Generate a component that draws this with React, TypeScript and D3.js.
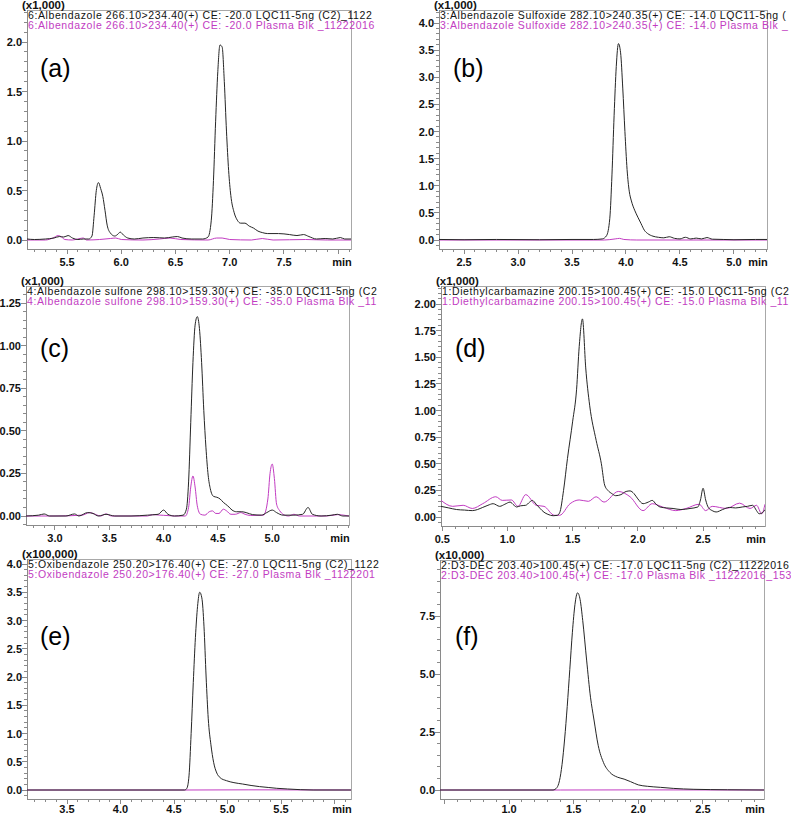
import React from 'react';
import * as d3 from 'd3';

type Pt = [number, number];

// ---------- data (time in min, intensity in the panel's multiplier units) ----------
const aBlack: Pt[] = [[5.13,0.01],[5.2,0.005],[5.3,0.01],[5.38,0.02],[5.43,0.035],[5.47,0.03],[5.51,0.045],[5.55,0.02],[5.6,0.005],[5.65,0.01],[5.7,0.01],[5.73,0.04],[5.75,0.25],[5.77,0.5],[5.79,0.58],[5.81,0.52],[5.83,0.44],[5.85,0.3],[5.87,0.15],[5.9,0.07],[5.94,0.04],[5.97,0.06],[5.99,0.08],[6.02,0.05],[6.06,0.02],[6.12,0.01],[6.2,0.02],[6.3,0.025],[6.4,0.02],[6.47,0.03],[6.52,0.035],[6.56,0.02],[6.65,0.01],[6.75,0.01],[6.8,0.03],[6.83,0.2],[6.85,0.6],[6.87,1.2],[6.89,1.7],[6.91,1.97],[6.93,1.95],[6.95,1.6],[6.97,1.1],[6.99,0.7],[7.01,0.45],[7.04,0.28],[7.07,0.2],[7.1,0.17],[7.14,0.17],[7.18,0.14],[7.22,0.12],[7.26,0.09],[7.3,0.075],[7.35,0.065],[7.45,0.065],[7.55,0.055],[7.62,0.045],[7.68,0.055],[7.73,0.035],[7.8,0.01],[7.88,0.015],[7.95,0.01],[8.02,0.025],[8.06,0.01],[8.118,0.01]];
const aMagenta: Pt[] = [[5.13,0],[5.3,0],[5.37,0.02],[5.42,0.045],[5.45,0.03],[5.48,0.005],[5.55,0],[5.62,0.015],[5.65,0.02],[5.68,0],[5.8,0.005],[5.9,0.015],[5.95,0.02],[6.0,0.005],[6.2,0],[6.35,0.01],[6.45,0.02],[6.55,0.005],[6.8,0],[6.88,0.02],[6.93,0.02],[7.0,0.005],[7.2,0],[7.3,0.015],[7.4,0],[7.7,0.005],[7.9,0],[8.118,0]];

const bBlack: Pt[] = [[2.268,0.01],[2.5,0.005],[2.8,0.01],[3.2,0.005],[3.5,0.01],[3.7,0.01],[3.78,0.02],[3.82,0.08],[3.85,0.4],[3.87,1.2],[3.89,2.3],[3.91,3.2],[3.93,3.62],[3.95,3.45],[3.97,2.8],[3.99,2.0],[4.01,1.3],[4.03,0.9],[4.05,0.72],[4.08,0.55],[4.11,0.42],[4.14,0.3],[4.17,0.18],[4.2,0.12],[4.25,0.07],[4.3,0.05],[4.35,0.04],[4.4,0.06],[4.45,0.03],[4.5,0.02],[4.55,0.05],[4.6,0.02],[4.65,0.035],[4.7,0.02],[4.75,0.045],[4.8,0.015],[4.9,0.01],[5.0,0.005],[5.2,0.01],[5.306,0.01]];
const bMagenta: Pt[] = [[2.268,0],[3.8,0],[3.9,0.02],[3.94,0.03],[3.98,0.01],[4.1,0],[5.306,0]];

const cBlack: Pt[] = [[2.733,0],[2.85,0.005],[2.9,0.012],[2.95,0],[3.1,0],[3.18,0.012],[3.22,0],[3.3,0.02],[3.35,0.015],[3.4,0],[3.47,0.01],[3.55,0],[3.7,0],[3.85,0.005],[3.95,0.01],[4.0,0.035],[4.04,0.01],[4.1,0],[4.18,0.005],[4.21,0.04],[4.23,0.2],[4.25,0.55],[4.27,0.9],[4.29,1.12],[4.31,1.17],[4.33,1.1],[4.35,0.9],[4.37,0.62],[4.39,0.4],[4.41,0.24],[4.43,0.16],[4.46,0.115],[4.49,0.11],[4.52,0.1],[4.55,0.08],[4.59,0.06],[4.63,0.035],[4.67,0.025],[4.72,0.025],[4.76,0.02],[4.82,0.008],[4.9,0.005],[4.95,0.02],[5.0,0.035],[5.04,0.02],[5.1,0.005],[5.2,0.005],[5.28,0.01],[5.33,0.05],[5.37,0.01],[5.45,0],[5.55,0.005],[5.6,0.01],[5.65,0],[5.707,0]];
const cMagenta: Pt[] = [[2.733,0],[3.0,0],[3.25,0.005],[3.32,0.02],[3.37,0.01],[3.42,0],[3.47,0.012],[3.52,0],[3.85,0],[3.9,0.008],[4.1,0],[4.2,0],[4.23,0.05],[4.25,0.17],[4.27,0.235],[4.29,0.17],[4.31,0.06],[4.34,0.01],[4.38,0.005],[4.42,0.025],[4.45,0.03],[4.48,0.015],[4.51,0.015],[4.55,0.04],[4.58,0.03],[4.62,0.01],[4.66,0.01],[4.71,0.02],[4.75,0.01],[4.8,0.003],[4.92,0.005],[4.96,0.1],[4.98,0.25],[5.0,0.305],[5.02,0.22],[5.04,0.07],[5.07,0.03],[5.1,0.01],[5.15,0],[5.2,0.01],[5.25,0],[5.5,0],[5.6,0.008],[5.707,0]];

const dBlack: Pt[] = [[0.49,0.1],[0.55,0.085],[0.61,0.07],[0.67,0.065],[0.73,0.06],[0.77,0.07],[0.81,0.09],[0.85,0.11],[0.89,0.125],[0.94,0.1],[0.98,0.12],[1.02,0.14],[1.05,0.11],[1.07,0.094],[1.1,0.105],[1.14,0.11],[1.17,0.14],[1.19,0.156],[1.22,0.12],[1.25,0.08],[1.28,0.045],[1.31,0.025],[1.35,0.012],[1.38,0.015],[1.4,0.04],[1.43,0.25],[1.46,0.55],[1.5,0.9],[1.53,1.2],[1.55,1.6],[1.575,1.86],[1.6,1.4],[1.63,1.05],[1.68,0.72],[1.72,0.5],[1.745,0.3],[1.77,0.25],[1.8,0.22],[1.83,0.2],[1.87,0.21],[1.91,0.24],[1.94,0.245],[1.97,0.22],[2.0,0.17],[2.04,0.125],[2.08,0.14],[2.11,0.156],[2.14,0.12],[2.17,0.094],[2.22,0.085],[2.27,0.08],[2.33,0.07],[2.4,0.08],[2.46,0.094],[2.48,0.16],[2.5,0.27],[2.52,0.16],[2.54,0.09],[2.57,0.06],[2.6,0.047],[2.65,0.07],[2.7,0.09],[2.75,0.085],[2.8,0.094],[2.84,0.1],[2.88,0.11],[2.91,0.06],[2.93,0.03],[2.955,0.04],[2.975,0.07]];
const dMagenta: Pt[] = [[0.49,0.156],[0.58,0.1],[0.66,0.11],[0.73,0.08],[0.81,0.125],[0.91,0.19],[0.96,0.156],[1.03,0.16],[1.08,0.1],[1.14,0.21],[1.22,0.11],[1.28,0.1],[1.36,0.016],[1.4,0.016],[1.48,0.125],[1.55,0.16],[1.62,0.147],[1.68,0.19],[1.74,0.14],[1.85,0.24],[1.94,0.19],[2.04,0.06],[2.11,0.125],[2.19,0.094],[2.29,0.06],[2.37,0.08],[2.47,0.12],[2.52,0.06],[2.57,0.1],[2.68,0.08],[2.78,0.13],[2.86,0.08],[2.91,0.11],[2.95,0.03],[2.975,0.12]];

const eBlack: Pt[] = [[3.126,0],[4.6,0],[4.62,0.03],[4.64,0.25],[4.66,1.0],[4.68,1.9],[4.7,2.7],[4.72,3.25],[4.74,3.5],[4.76,3.4],[4.78,2.9],[4.8,2.0],[4.82,1.26],[4.845,0.8],[4.87,0.49],[4.9,0.3],[4.93,0.22],[4.99,0.165],[5.06,0.13],[5.14,0.106],[5.22,0.08],[5.3,0.06],[5.38,0.045],[5.46,0.03],[5.56,0.018],[5.68,0.006],[5.8,0],[6.154,0]];
const eMagenta: Pt[] = [[3.126,0],[4.6,0],[5.2,0.003],[6.154,0]];

const fBlack: Pt[] = [[0.466,0],[1.34,0],[1.37,0.1],[1.39,0.4],[1.41,1.1],[1.43,2.2],[1.45,3.6],[1.47,5.2],[1.49,6.8],[1.51,8.0],[1.53,8.5],[1.55,8.2],[1.57,7.3],[1.6,5.6],[1.63,4.0],[1.656,3.06],[1.69,1.91],[1.73,1.19],[1.78,0.76],[1.84,0.55],[1.89,0.47],[1.94,0.36],[2.0,0.22],[2.07,0.16],[2.17,0.115],[2.27,0.07],[2.43,0.03],[2.69,0.01],[2.972,0]];
const fMagenta: Pt[] = [[0.466,0],[1.4,0],[2.0,0.005],[2.972,0]];

// ---------- texts (visible part of each header) ----------
const headersBlack = [
  '6:Albendazole 266.10>234.40(+) CE: -20.0 LQC11-5ng (C2)_1122',
  '3:Albendazole Sulfoxide 282.10>240.35(+) CE: -14.0 LQC11-5ng (',
  '4:Albendazole sulfone 298.10>159.30(+) CE: -35.0 LQC11-5ng (C2',
  '1:Diethylcarbamazine 200.15>100.45(+) CE: -15.0 LQC11-5ng (C2',
  '5:Oxibendazole 250.20>176.40(+) CE: -27.0 LQC11-5ng (C2)_1122',
  '2:D3-DEC 203.40>100.45(+) CE: -17.0 LQC11-5ng (C2)_11222016',
];
const headersMagenta = [
  '6:Albendazole 266.10>234.40(+) CE: -20.0 Plasma Blk _11222016',
  '3:Albendazole Sulfoxide 282.10>240.35(+) CE: -14.0 Plasma Blk _',
  '4:Albendazole sulfone 298.10>159.30(+) CE: -35.0 Plasma Blk _11',
  '1:Diethylcarbamazine 200.15>100.45(+) CE: -15.0 Plasma Blk _11',
  '5:Oxibendazole 250.20>176.40(+) CE: -27.0 Plasma Blk _1122201',
  '2:D3-DEC 203.40>100.45(+) CE: -17.0 Plasma Blk _11222016_153',
];
const multipliers = ['(x1,000)', '(x1,000)', '(x1,000)', '(x1,000)', '(x100,000)', '(x10,000)'];
const panelLetters = ['(a)', '(b)', '(c)', '(d)', '(e)', '(f)'];

const xLabelsA = ['5.5', '6.0', '6.5', '7.0', '7.5'];
const xLabelsB = ['2.5', '3.0', '3.5', '4.0', '4.5', '5.0'];
const xLabelsC = ['3.0', '3.5', '4.0', '4.5', '5.0'];
const xLabelsD = ['0.5', '1.0', '1.5', '2.0', '2.5'];
const xLabelsE = ['3.5', '4.0', '4.5', '5.0', '5.5'];
const xLabelsF = ['1.0', '1.5', '2.0', '2.5'];

const yLabelsA = ['0.0', '0.5', '1.0', '1.5', '2.0'];
const yLabelsB = ['0.0', '0.5', '1.0', '1.5', '2.0', '2.5', '3.0', '3.5', '4.0'];
const yLabelsC = ['0.00', '0.25', '0.50', '0.75', '1.00', '1.25'];
const yLabelsD = ['0.00', '0.25', '0.50', '0.75', '1.00', '1.25', '1.50', '1.75', '2.00'];
const yLabelsE = ['0.0', '0.5', '1.0', '1.5', '2.0', '2.5', '3.0', '3.5', '4.0'];
const yLabelsF = ['0.0', '2.5', '5.0', '7.5'];

// ---------- layout ----------
interface Panel {
  black: Pt[]; magenta: Pt[];
  xLabels: string[]; yLabels: string[];
  xDomain: [number, number];
  left: number; right: number; top: number; bottom: number;
  y0: number; yRef: number; yRefPx: number; yMinor: number;
  clipRight: number; letterX: number; letterY: number; labelDy: number;
}

const panels: Panel[] = [
  { black: aBlack, magenta: aMagenta, xLabels: xLabelsA, yLabels: yLabelsA, xDomain: [5.131, 8.118], left: 27, right: 351, top: 10, bottom: 249, y0: 240, yRef: 2.0, yRefPx: 42, yMinor: 0.1, clipRight: 381, letterX: 40, letterY: 77, labelDy: 17 },
  { black: bBlack, magenta: bMagenta, xLabels: xLabelsB, yLabels: yLabelsB, xDomain: [2.268, 5.306], left: 439, right: 767, top: 10, bottom: 249, y0: 240, yRef: 4.0, yRefPx: 23, yMinor: 0.1, clipRight: 791, letterX: 453, letterY: 77, labelDy: 17 },
  { black: cBlack, magenta: cMagenta, xLabels: xLabelsC, yLabels: yLabelsC, xDomain: [2.733, 5.707], left: 26, right: 349, top: 286, bottom: 525, y0: 516, yRef: 1.25, yRefPx: 303, yMinor: 0.05, clipRight: 381, letterX: 40, letterY: 357, labelDy: 17 },
  { black: dBlack, magenta: dMagenta, xLabels: xLabelsD, yLabels: yLabelsD, xDomain: [0.49, 2.975], left: 441, right: 765, top: 286, bottom: 526, y0: 517, yRef: 2.0, yRefPx: 304, yMinor: 0.05, clipRight: 791, letterX: 455, letterY: 357, labelDy: 17 },
  { black: eBlack, magenta: eMagenta, xLabels: xLabelsE, yLabels: yLabelsE, xDomain: [3.126, 6.154], left: 27, right: 351, top: 559, bottom: 799, y0: 790, yRef: 4.0, yRefPx: 564, yMinor: 0.1, clipRight: 381, letterX: 40, letterY: 645, labelDy: 14 },
  { black: fBlack, magenta: fMagenta, xLabels: xLabelsF, yLabels: yLabelsF, xDomain: [0.466, 2.972], left: 440, right: 764, top: 560, bottom: 799, y0: 790, yRef: 7.5, yRefPx: 616, yMinor: 0.5, clipRight: 791, letterX: 455, letterY: 645, labelDy: 14 },
];

const FONT = 'Arial, "Liberation Sans", Helvetica, sans-serif';
const AXIS = '#8a8a8a';
const FRAME = '#a8a8a8';
const MAG = '#c23cc2';
const BLK = '#262626';

function PanelView({ p, i }: { p: Panel; i: number }) {
  const x = d3.scaleLinear().domain(p.xDomain).range([p.left, p.right]);
  const y = d3.scaleLinear().domain([0, p.yRef]).range([p.y0, p.yRefPx]);
  const line = d3.line<Pt>().x(d => x(d[0])).y(d => y(d[1])).curve(d3.curveMonotoneX);

  const xMinor: number[] = [];
  for (let k = Math.ceil(p.xDomain[0] * 10 - 1e-6); k <= Math.floor(p.xDomain[1] * 10 + 1e-6); k++) xMinor.push(k / 10);
  const yLo = y.invert(p.bottom), yHi = y.invert(p.top);
  const yMinor: number[] = [];
  const ns = Math.round(1 / p.yMinor);
  for (let k = Math.ceil(yLo * ns - 1e-6); k <= Math.floor(yHi * ns + 1e-6); k++) yMinor.push(k / ns);
  const yMajorVals = p.yLabels.map(Number);
  const isYMajor = (v: number) => yMajorVals.some(m => Math.abs(m - v) < 1e-6);

  const clipId = `plot-${i}`;
  const textClip = `txt-${i}`;
  return (
    <g>
      <defs>
        <clipPath id={clipId}><rect x={p.left} y={p.top} width={p.right - p.left} height={p.bottom - p.top} /></clipPath>
        <clipPath id={textClip}><rect x={p.left - 30} y={p.top - 20} width={p.clipRight - p.left + 30} height={60} /></clipPath>
      </defs>
      {/* frame */}
      <rect x={p.left} y={p.top} width={p.right - p.left} height={p.bottom - p.top} fill="none" stroke={FRAME} strokeWidth={1} shapeRendering="crispEdges" />
      <line x1={p.left} x2={p.left} y1={p.top} y2={p.bottom} stroke={AXIS} shapeRendering="crispEdges" />
      <line x1={p.left} x2={p.right} y1={p.bottom} y2={p.bottom} stroke={AXIS} shapeRendering="crispEdges" />
      {/* y ticks */}
      {yMinor.map(v => (
        <line key={'ym' + v} x1={p.left - (isYMajor(v) ? 5 : 3)} x2={p.left} y1={y(v)} y2={y(v)} stroke={AXIS} shapeRendering="crispEdges" />
      ))}
      {p.yLabels.map(l => (
        <text key={'yl' + l} x={p.left - 5} y={y(+l) + 4} textAnchor="end" fontFamily={FONT} fontWeight="bold" fontSize={11} fill="#111">{l}</text>
      ))}
      {/* x ticks */}
      {xMinor.map(v => {
        const major = Math.abs(v * 2 - Math.round(v * 2)) < 1e-6;
        return <line key={'xm' + v} x1={x(v)} x2={x(v)} y1={p.bottom} y2={p.bottom + (major ? 5 : 3)} stroke={AXIS} shapeRendering="crispEdges" />;
      })}
      {p.xLabels.map(l => (
        <text key={'xl' + l} x={x(+l)} y={p.bottom + p.labelDy} textAnchor="middle" fontFamily={FONT} fontWeight="bold" fontSize={11} fill="#111">{l}</text>
      ))}
      <text x={p.right - 9} y={p.bottom + p.labelDy} textAnchor="middle" fontFamily={FONT} fontWeight="bold" fontSize={11} fill="#111">min</text>
      {/* multiplier */}
      <text x={p.left - 5} y={p.top - 1.5} fontFamily={FONT} fontWeight="bold" fontSize={11.5} fill="#111">{multipliers[i]}</text>
      {/* headers */}
      <g clipPath={`url(#${textClip})`}>
        <text x={p.left + 1} y={p.top + 9} fontFamily={FONT} fontSize={10.5} letterSpacing={0.6} fill="#111">{headersBlack[i]}</text>
        <text x={p.left + 1} y={p.top + 19} fontFamily={FONT} fontSize={10.5} letterSpacing={0.6} fill={MAG}>{headersMagenta[i]}</text>
      </g>
      {/* letter */}
      <text x={p.letterX} y={p.letterY} fontFamily={FONT} fontSize={25} fill="#000">{panelLetters[i]}</text>
      {/* curves */}
      <g clipPath={`url(#${clipId})`}>
        <path d={line(p.magenta) || ''} fill="none" stroke={MAG} strokeWidth={1} />
        <path d={line(p.black) || ''} fill="none" stroke={BLK} strokeWidth={1} />
      </g>
    </g>
  );
}

export default function App() {
  return (
    <svg width={791} height={816} style={{ position: 'absolute', left: 0, top: 0, background: '#fff' }}>
      <rect x={0} y={0} width={791} height={816} fill="#fff" />
      {panels.map((p, i) => <PanelView key={i} p={p} i={i} />)}
    </svg>
  );
}
